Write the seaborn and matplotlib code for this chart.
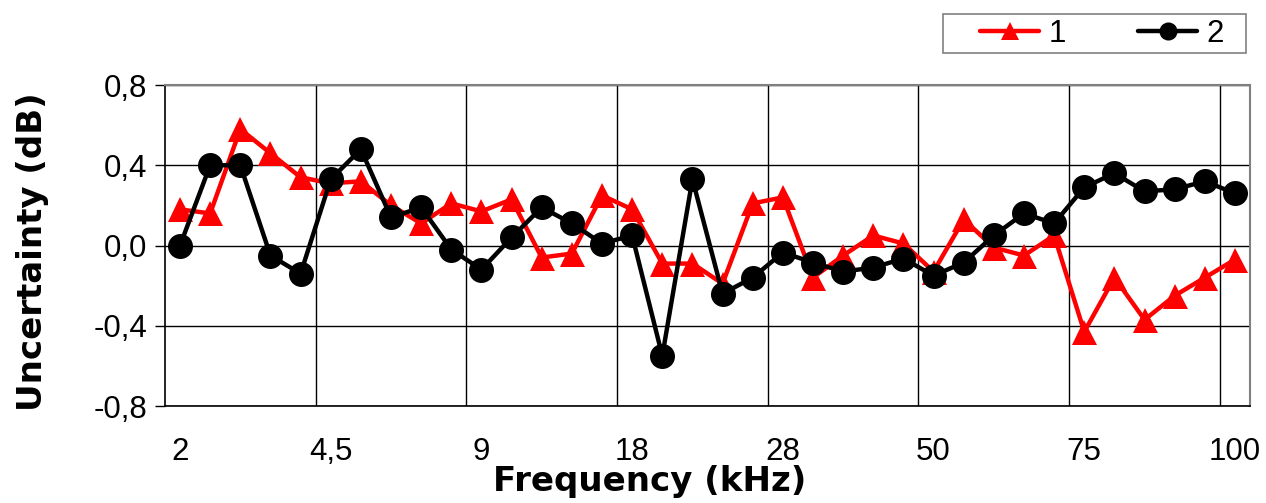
import matplotlib
matplotlib.use("Agg")
import matplotlib.pyplot as plt
from matplotlib.patches import Rectangle
from matplotlib.lines import Line2D
import seaborn as sns
import pandas as pd
import numpy as np

# Data (36 frequency points)
tick_labels = ["2", "4,5", "9", "18", "28", "50", "75", "100"]
series_1 = [0.18, 0.16, 0.58, 0.46, 0.34, 0.31, 0.32, 0.20, 0.11, 0.21,
            0.17, 0.23, -0.06, -0.04, 0.25, 0.18, -0.09, -0.09, -0.19, 0.21,
            0.24, -0.16, -0.05, 0.05, 0.01, -0.13, 0.13, -0.01, -0.05, 0.05,
            -0.43, -0.16, -0.37, -0.25, -0.16, -0.07]
series_2 = [0.00, 0.40, 0.40, -0.05, -0.14, 0.33, 0.48, 0.14, 0.19, -0.02,
            -0.12, 0.04, 0.19, 0.11, 0.01, 0.05, -0.55, 0.33, -0.24, -0.16,
            -0.035, -0.085, -0.13, -0.11, -0.065, -0.15, -0.085, 0.05, 0.16, 0.11,
            0.29, 0.36, 0.27, 0.28, 0.32, 0.26]

n = len(series_1)
df = pd.DataFrame({
    "idx": list(range(n)) * 2,
    "Uncertainty": series_1 + series_2,
    "Series": ["1"] * n + ["2"] * n,
})

sns.set_theme(style="white")
plt.rcParams["font.family"] = ["Liberation Sans", "DejaVu Sans"]
plt.rcParams["text.color"] = "black"
plt.rcParams["axes.labelcolor"] = "black"
plt.rcParams["xtick.color"] = "black"
plt.rcParams["ytick.color"] = "black"

fig = plt.figure(figsize=(12.66, 5.03), dpi=100)
ax = fig.add_axes([0.1303, 0.1928, 0.8571, 0.6382])

ax = sns.lineplot(
    data=df, x="idx", y="Uncertainty", hue="Series", style="Series",
    palette={"1": "#ff0000", "2": "#000000"},
    markers={"1": "^", "2": "o"}, dashes=False,
    linewidth=3.2, markersize=18, markeredgewidth=0, ax=ax, legend=False,
)

# Axis limits and ticks
ax.set_xlim(-0.5, n - 0.5)
ax.set_ylim(-0.8, 0.8)
ax.set_xticks(np.arange(0, n, 5))
ax.set_xticklabels(tick_labels, fontsize=22.5)
ax.set_xticks(np.arange(4.5, n - 0.5, 5), minor=True)
ax.set_yticks([-0.8, -0.4, 0.0, 0.4, 0.8])
ax.set_yticklabels(["-0,8", "-0,4", "0,0", "0,4", "0,8"], fontsize=22.5)
ax.tick_params(axis="x", which="both", length=0, pad=22)
ax.tick_params(axis="y", length=7, width=1, color="black", direction="out", pad=6, left=True)

# Grid
ax.grid(False)
ax.grid(axis="y", which="major", color="black", linewidth=1)
ax.grid(axis="x", which="minor", color="black", linewidth=1)

for side in ["top", "right"]:
    ax.spines[side].set_color("#808080")
    ax.spines[side].set_linewidth(1.5)
for side in ["left", "bottom"]:
    ax.spines[side].set_color("black")
    ax.spines[side].set_linewidth(1.2)

ax.set_xlabel("Frequency (kHz)", fontsize=24.5, fontweight="bold",
              family="DejaVu Sans")
ax.xaxis.set_label_coords(0.447, -0.183)
ax.set_ylabel("Uncertainty (dB)", fontsize=24.5, fontweight="bold",
              family="DejaVu Sans")
ax.yaxis.set_label_coords(-0.107, 0.48)

# Legend above the plot, right side, inside a plain box
fig.patches.append(Rectangle((943 / 1266, 1 - 53 / 503), 303 / 1266, 39 / 503,
                             transform=fig.transFigure, fill=False,
                             edgecolor="#808080", linewidth=1.2))
h1 = Line2D([], [], color="#ff0000", marker="^", linewidth=3.2,
            markersize=13, markeredgewidth=0)
h2 = Line2D([], [], color="black", marker="o", linewidth=3.2,
            markersize=13, markeredgewidth=0)
fig.legend([h1, h2], ["1", "2"], ncol=2, loc="center left",
           bbox_to_anchor=(980 / 1266, 1 - 34 / 503),
           bbox_transform=fig.transFigure, borderaxespad=0, borderpad=0,
           fontsize=22.5, frameon=False,
           handlelength=1.9, columnspacing=2.3, handletextpad=0.3)

plt.savefig("out.png", dpi=100)
plt.close()
